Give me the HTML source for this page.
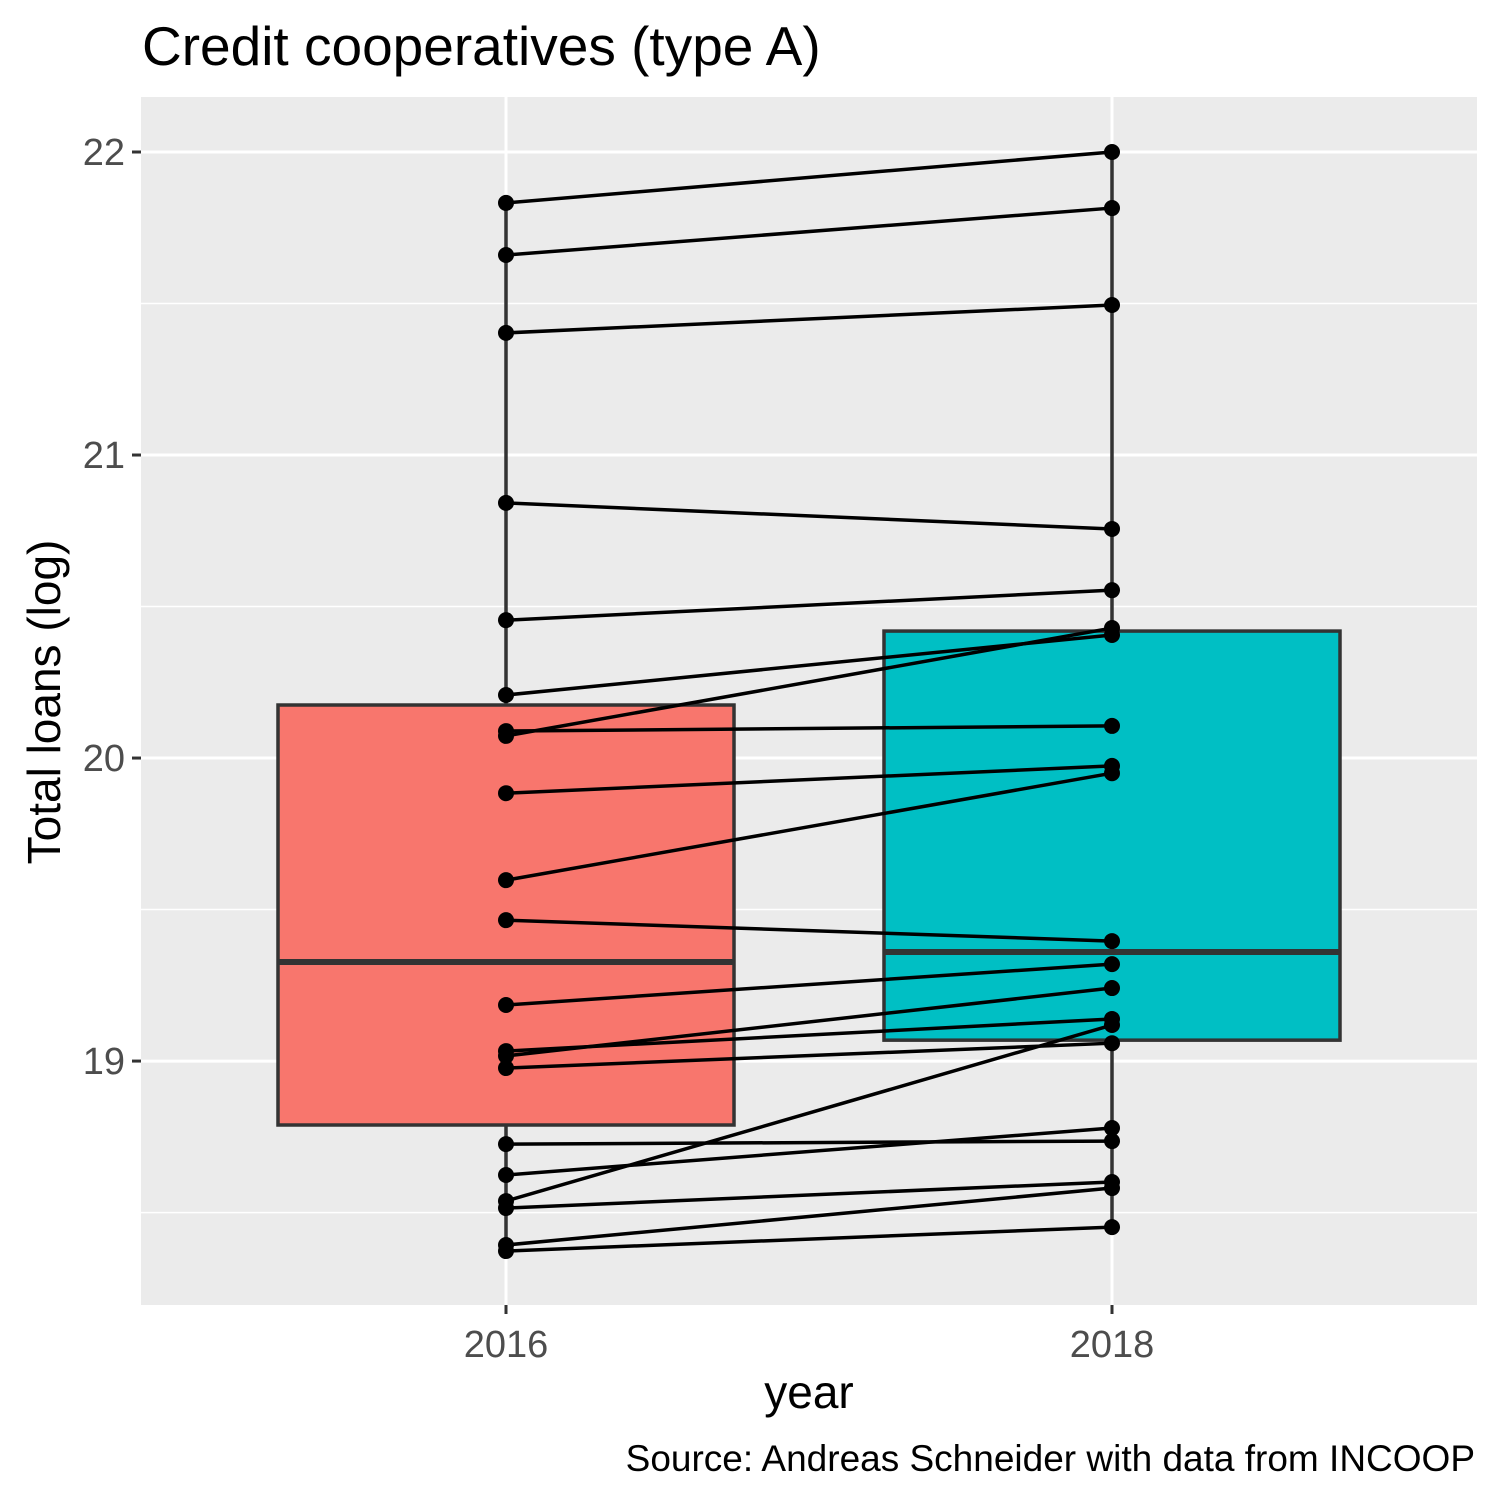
<!DOCTYPE html>
<html><head><meta charset="utf-8">
<style>
html,body{margin:0;padding:0;background:#fff;}
svg{display:block;font-family:"Liberation Sans",Arial,sans-serif;}
</style></head>
<body>
<svg id="chart" width="1500" height="1500" viewBox="0 0 1500 1500">
<text x="142" y="65" font-size="55" fill="#000">Credit cooperatives (type A)</text>
<rect x="141" y="97" width="1336" height="1208" fill="#ebebeb"/>
<g id="grid"></g>
<g id="boxes"></g>
<g id="lines"></g>
<g id="axes"></g>
<text x="809" y="1408" font-size="46" text-anchor="middle" fill="#000">year</text>
<text transform="translate(60,702) rotate(-90)" font-size="46" text-anchor="middle" fill="#000">Total loans (log)</text>
<text x="1475" y="1471" font-size="37" text-anchor="end" fill="#000">Source: Andreas Schneider with data from INCOOP</text>
</svg>
<script>
const years = ["2016", "2018"];
const v2016 = [21.832,21.660,21.403,20.842,20.455,20.208,20.073,20.089,19.884,19.597,19.465,19.185,19.033,19.017,18.977,18.538,18.726,18.624,18.515,18.393,18.373];
const v2018 = [22.000,21.815,21.495,20.756,20.554,20.406,20.429,20.106,19.974,19.950,19.396,19.320,19.139,19.241,19.059,19.119,18.736,18.779,18.601,18.581,18.452];
const boxQ1 = [18.789, 19.069];
const boxMedian = [19.327, 19.360];
const boxQ3 = [20.175, 20.419];
const whiskerLow = [18.373, 18.452];
const whiskerHigh = [21.832, 22.000];
const boxFill = ["#f8766d", "#00bfc4"];
const yTicks = [19, 20, 21, 22];
const yMinor = [18.5, 19.5, 20.5, 21.5];

const NS = "http://www.w3.org/2000/svg";
const yMin = 18.195, yMax = 22.1815;
function yS(v){ return 1305 - (v - yMin) / (yMax - yMin) * 1208; }
function xS(i){ return 506 + i * 606; }
function mk(tag, attrs, parent){
  const e = document.createElementNS(NS, tag);
  for (const k in attrs) e.setAttribute(k, attrs[k]);
  document.getElementById(parent).appendChild(e);
  return e;
}
yMinor.forEach(v => {
  const l = mk("line", {x1:141, x2:1477, y1:yS(v), y2:yS(v), stroke:"#fff", "stroke-width":1.5}, "grid");
  
  
});
yTicks.forEach(v => {
  const l = mk("line", {x1:141, x2:1477, y1:yS(v), y2:yS(v), stroke:"#fff", "stroke-width":3}, "grid");
  
  
  const t = mk("line", {x1:132, x2:141, y1:yS(v), y2:yS(v), stroke:"#333", "stroke-width":3}, "axes");
  
  
  const tx = mk("text", {x:125, y:yS(v)+13, "font-size":38, "text-anchor":"end", fill:"#4d4d4d"}, "axes");
  tx.textContent = String(v);
  
  
});
years.forEach((yr, i) => {
  const g = mk("line", {x1:xS(i), x2:xS(i), y1:97, y2:1305, stroke:"#fff", "stroke-width":3}, "grid");
  
  
  const t = mk("line", {x1:xS(i), x2:xS(i), y1:1305, y2:1314, stroke:"#333", "stroke-width":3}, "axes");
  
  
  const tx = mk("text", {x:xS(i), y:1357, "font-size":38, "text-anchor":"middle", fill:"#4d4d4d"}, "axes");
  tx.textContent = yr;
  
  
  const w = mk("line", {x1:xS(i), x2:xS(i), y1:yS(whiskerHigh[i]), y2:yS(whiskerLow[i]), stroke:"#333", "stroke-width":3.5}, "boxes");
  
  
  const b = mk("rect", {x:xS(i)-228, width:456, y:yS(boxQ3[i]), height:yS(boxQ1[i])-yS(boxQ3[i]), fill:boxFill[i], stroke:"#333", "stroke-width":3.5}, "boxes");
  
  
  const m = mk("line", {x1:xS(i)-228, x2:xS(i)+228, y1:yS(boxMedian[i]), y2:yS(boxMedian[i]), stroke:"#333", "stroke-width":6}, "boxes");
  
  
});
v2016.forEach((a, k) => {
  const b = v2018[k];
  const l = mk("line", {x1:xS(0), x2:xS(1), y1:yS(a), y2:yS(b), stroke:"#000", "stroke-width":3.5}, "lines");
  
  
});
v2016.forEach(a => {
  const c = mk("circle", {cx:xS(0), cy:yS(a), r:8, fill:"#000"}, "lines");
  
  
});
v2018.forEach(b => {
  const c = mk("circle", {cx:xS(1), cy:yS(b), r:8, fill:"#000"}, "lines");
  
  
});
</script>
</body></html>
